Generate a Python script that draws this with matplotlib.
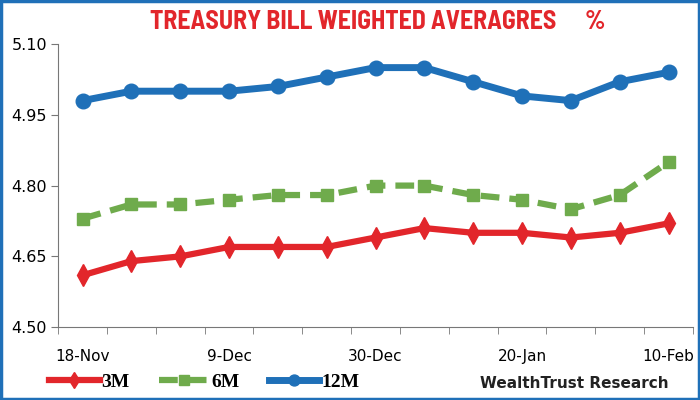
import numpy as np
import matplotlib.pyplot as plt
from matplotlib.patches import Rectangle

# weekly tender dates and weighted average yields (%)
dates = ['18-Nov', '25-Nov', '2-Dec', '9-Dec', '16-Dec', '23-Dec', '30-Dec',
         '6-Jan', '13-Jan', '20-Jan', '27-Jan', '3-Feb', '10-Feb']
bill_3m = [4.61, 4.64, 4.65, 4.67, 4.67, 4.67, 4.69, 4.71, 4.70, 4.70, 4.69, 4.70, 4.72]
bill_6m = [4.73, 4.76, 4.76, 4.77, 4.78, 4.78, 4.80, 4.80, 4.78, 4.77, 4.75, 4.78, 4.85]
bill_12m = [4.98, 5.00, 5.00, 5.00, 5.01, 5.03, 5.05, 5.05, 5.02, 4.99, 4.98, 5.02, 5.04]
y_ticks = [4.50, 4.65, 4.80, 4.95, 5.10]

RED = '#e2262b'
GREEN = '#6fab4c'
BLUE = '#1f70b8'
TITLE_FONT = ['Barlow Semi Condensed', 'Liberation Sans', 'DejaVu Sans']

fig = plt.figure(figsize=(7, 4), dpi=100)
ax = fig.add_axes([0.083, 0.182, 0.907, 0.708])

x = np.arange(len(dates))
ax.plot(x, bill_3m, color=RED, lw=4.5, marker='d', ms=11, label='3M')
ax.plot(x, bill_6m, color=GREEN, lw=4.5, ls=(0, (3, 1.6)), marker='s', ms=9,
        label='6M')
ax.plot(x, bill_12m, color=BLUE, lw=5, marker='o', ms=10.5, label='12M')

ax.set_ylim(4.50, 5.10)
ax.set_yticks(y_ticks)
ax.set_yticklabels([f'{v:.2f}' for v in y_ticks])
ax.set_xlim(-0.5, len(dates) - 0.5)
ax.set_xticks(x[::3])
ax.set_xticklabels(dates[::3])
ax.set_xticks(np.arange(-0.5, len(dates)), minor=True)
ax.tick_params(axis='x', which='major', length=0, pad=16, labelsize=11)
ax.tick_params(axis='x', which='minor', length=5, color='#777777')
ax.tick_params(axis='y', length=5, color='#777777', labelsize=11.5, pad=3)
for s in ['top', 'right']:
    ax.spines[s].set_visible(False)
for s in ['left', 'bottom']:
    ax.spines[s].set_color('#777777')

# title, with the % sign set off to the right
fig.text(0.214, 0.945, 'TREASURY BILL WEIGHTED AVERAGRES', ha='left', va='center',
         color=RED, fontsize=18.5, fontweight='bold', family=TITLE_FONT)
fig.text(0.85, 0.945, '%', ha='center', va='center',
         color=RED, fontsize=18.5, fontweight='bold', family=TITLE_FONT)

leg = fig.legend(loc='center left', bbox_to_anchor=(0.045, 0.045), ncol=3,
                 frameon=False, handlelength=2.6, columnspacing=1.5,
                 handletextpad=0.1, markerscale=0.75,
                 prop={'family': 'Liberation Serif', 'weight': 'bold', 'size': 14})

fig.text(0.955, 0.04, 'WealthTrust Research', ha='right', va='center',
         fontsize=11, fontweight='bold', color='#222222')

# blue frame round the figure
fig.patches.append(Rectangle((0.002, 0.003), 0.996, 0.994, transform=fig.transFigure,
                             fill=False, edgecolor=BLUE, lw=2.5))

fig.savefig('out.png', dpi=100)
